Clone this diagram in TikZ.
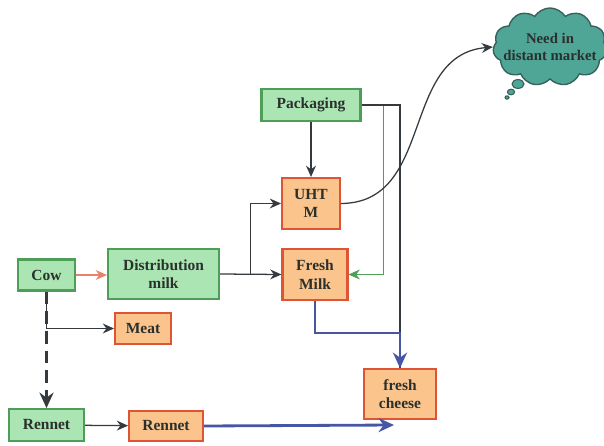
\documentclass[tikz,border=0pt]{standalone}
\usepackage{fontspec}
\setmainfont{Liberation Serif}
\usetikzlibrary{calc,arrows.meta,shapes.symbols}
\tikzset{>={Stealth[length=8pt,width=7pt]}}
\definecolor{greenfill}{HTML}{ABE5B3}
\definecolor{greenline}{HTML}{4E9E58}
\definecolor{orangefill}{HTML}{FBC48D}
\definecolor{orangeline}{HTML}{DE5536}
\definecolor{cloudfill}{HTML}{4FA696}
\definecolor{cloudline}{HTML}{37625C}
\definecolor{darkline}{HTML}{353A3F}
\definecolor{blueline}{HTML}{4756A4}
\definecolor{redline}{HTML}{E8826C}
\definecolor{textgray}{HTML}{2A302C}
\tikzset{
  stagebox/.style={draw=greenline,fill=greenfill,line width=1.6pt,inner sep=0pt,
    font=\fontsize{11}{13}\selectfont\bfseries,text=textgray,align=center},
  productbox/.style={stagebox,draw=orangeline,fill=orangefill},
  flow/.style={->,darkline,line width=0.9pt},
  milkflow/.style={-{Stealth[length=11pt,width=10pt]},blueline,line width=2pt}
}

\begin{document}
\begin{tikzpicture}[x=0.025cm,y=-0.025cm]
    \useasboundingbox (0,0) rectangle (604,446);
    % supply side
    \node[stagebox,minimum width=1.42cm,minimum height=0.77cm] (cow) at (46.5,275) {Cow};
    \node[stagebox,minimum width=2.77cm,minimum height=1.24cm] (distribution) at (163.5,274) {Distribution\\milk};
    \node[stagebox,minimum width=2.47cm,minimum height=0.79cm] (packaging) at (311,105) {Packaging};
    \node[stagebox,minimum width=1.87cm,minimum height=0.79cm] (rennetsrc) at (46.5,425) {Rennet};
    % products
    \node[productbox,minimum width=1.44cm,minimum height=1.27cm] (uht) at (311,203.5) {UHT\\M};
    \node[productbox,minimum width=1.62cm,minimum height=1.27cm] (fresh) at (315,274.5) {Fresh\\Milk};
    \node[productbox,minimum width=1.39cm,minimum height=0.77cm] (meat) at (143,328.5) {Meat};
    \node[productbox,minimum width=1.84cm,minimum height=0.74cm] (rennet) at (166,426) {Rennet};
    \node[productbox,minimum width=1.79cm,minimum height=1.24cm] (cheese) at (400,394) {fresh\\cheese};
    % market cloud
    \node[cloud,cloud puffs=11,cloud puff arc=115,draw=cloudline,fill=cloudfill,line width=1pt,
      minimum width=2.85cm,minimum height=1.95cm] (market) at (550,47) {};
    \node[font=\fontsize{10.5}{12.5}\selectfont\bfseries,text=textgray,align=center] (markettext) at (market.center) {Need in\\distant market};
    \draw[draw=cloudline,fill=cloudfill,line width=0.8pt] (518,84) ellipse (0.15cm and 0.11cm);
    \draw[draw=cloudline,fill=cloudfill,line width=0.8pt] (511,92) ellipse (0.09cm and 0.07cm);
    \draw[draw=cloudline,fill=cloudfill,line width=0.8pt] (507,97.5) ellipse (0.05cm and 0.04cm);

    \coordinate (split) at ($(distribution.east)!0.5!(fresh.west)$);
    \coordinate (cheesein) at (394,425);
    \draw[->,redline,line width=0.9pt] (cow.east) -- (cow.east -| distribution.west);
    \draw[flow] (distribution.east) -- (fresh.west);
    \draw[flow] (split) |- (uht.west);
    \draw[flow,line width=1.3pt] (packaging) -- (uht);
    \draw[->,greenline,line width=0.7pt] (packaging.east) -| ($(fresh.east)+(35,0)$) -- (fresh.east);
    \draw[darkline,line width=1pt] (packaging.east) -| (cheese.north);
    \draw[flow] (cow.south) |- (meat.west);
    \draw[-{Stealth[length=11pt,width=10pt]},darkline,line width=2.5pt,dash pattern=on 9pt off 5pt] (cow.south) -- (rennetsrc.north);
    \draw[flow] (rennetsrc) -- (rennet);
    \draw[milkflow] (fresh.south) -- ++(0,32) -| (cheese.north);
    \draw[milkflow] (rennet.east) -- (cheesein);
    \draw[flow] (uht.east) .. controls (435,203) and (400,55) .. (market.west);
\end{tikzpicture}
\end{document}
